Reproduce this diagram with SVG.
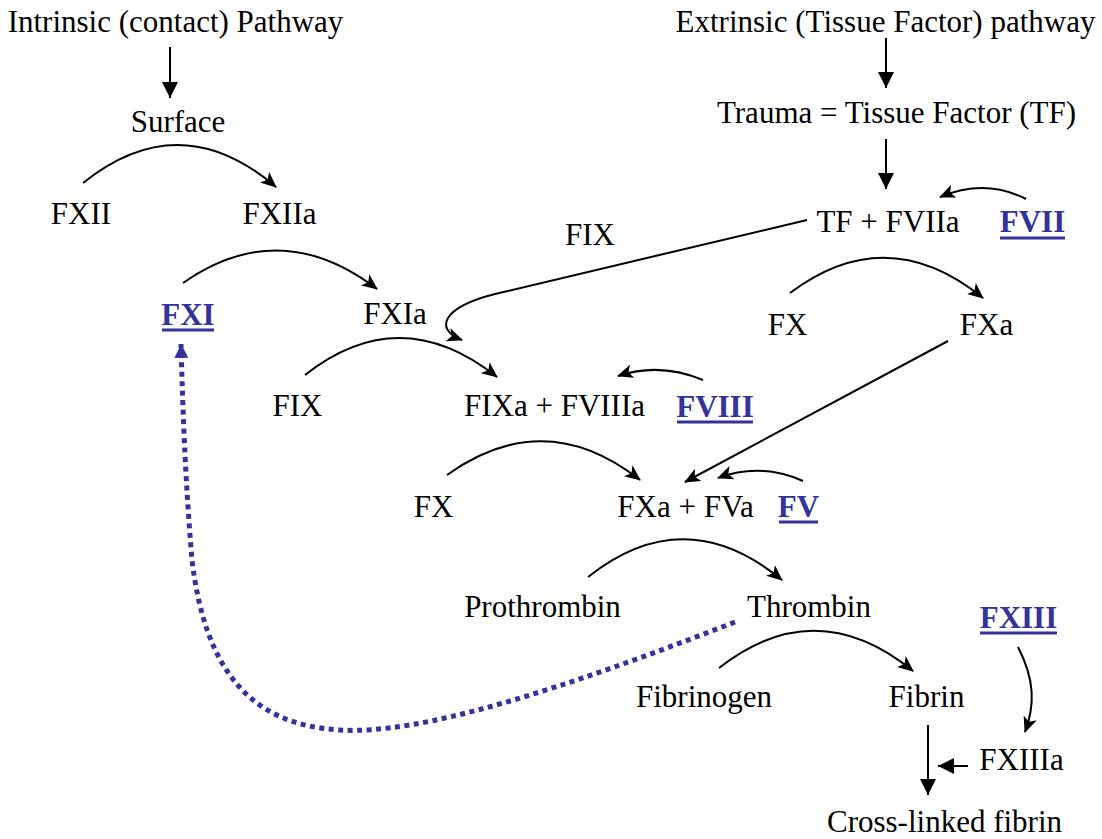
<svg xmlns="http://www.w3.org/2000/svg" width="1102" height="839" viewBox="0 0 1102 839">
<style>
text{font-family:"Liberation Serif","Times New Roman",serif;font-size:31px;fill:#000;text-anchor:middle}
text.f{font-weight:bold;fill:#333399}
.ul{stroke:#333399;stroke-width:3}
.c{fill:none;stroke:#000;stroke-width:2}
.s{fill:none;stroke:#000;stroke-width:2}
.d{fill:none;stroke:#333399;stroke-width:5;stroke-dasharray:5 4.5}
</style>
<defs>
<marker id="ah" markerUnits="userSpaceOnUse" viewBox="0 0 16 14" refX="15" refY="7" markerWidth="16" markerHeight="14" orient="auto">
<path d="M0,0 L16,7 L0,14 L4,7 z" fill="#000"/>
</marker>
<marker id="tri" markerUnits="userSpaceOnUse" viewBox="0 0 16 16" refX="16" refY="8" markerWidth="16" markerHeight="16" orient="auto">
<path d="M0,0 L16,8 L0,16 z" fill="#000"/>
</marker>
<marker id="bt" markerUnits="userSpaceOnUse" viewBox="0 0 14 14" refX="14" refY="7" markerWidth="14" markerHeight="14" orient="auto">
<path d="M0,0 L14,7 L0,14 z" fill="#333399"/>
</marker>
</defs>
<g id="connectors">
<path class="s" d="M170,47 L170,98" marker-end="url(#tri)"/>
<path class="s" d="M886,38 L886,88" marker-end="url(#tri)"/>
<path class="s" d="M886,139 L886,189" marker-end="url(#tri)"/>
<path class="s" d="M928,725 L928,795" marker-end="url(#tri)"/>
<path class="s" d="M968,766 L938,766" marker-end="url(#tri)"/>
<path class="c" d="M83,183 Q180,105 276,187" marker-end="url(#ah)"/>
<path class="c" d="M183,283 Q280,215 377,289" marker-end="url(#ah)"/>
<path class="c" d="M305,375 Q400,300 497,377" marker-end="url(#ah)"/>
<path class="c" d="M790,293 Q887,220 983,298" marker-end="url(#ah)"/>
<path class="c" d="M447,475 Q545,405 640,480" marker-end="url(#ah)"/>
<path class="c" d="M588,577 Q685,500 782,580" marker-end="url(#ah)"/>
<path class="c" d="M719,668 Q816,592 913,671" marker-end="url(#ah)"/>
<path class="c" d="M1026,199 Q985,178 940,197" marker-end="url(#ah)"/>
<path class="c" d="M703,380 Q660,362 618,376" marker-end="url(#ah)"/>
<path class="c" d="M803,481 Q760,462 718,478" marker-end="url(#ah)"/>
<path class="c" d="M1018,647 C1035,680 1035,705 1025,732" marker-end="url(#ah)"/>
<path class="c" d="M807,220 L495,294 C440,308 435,330 462,340" marker-end="url(#ah)"/>
<path class="c" d="M948,341 L685,482" marker-end="url(#ah)"/>
<path class="d" d="M735,622 C560,690 420,735 340,730 C250,725 205,670 192,560 C186,490 183,420 181,344" marker-end="url(#bt)"/>
</g>
<g id="n-intrinsic"><text x="175.5" y="32">Intrinsic (contact) Pathway</text></g>
<g id="n-surface"><text x="178" y="132">Surface</text></g>
<g id="n-fxii"><text x="81" y="224">FXII</text></g>
<g id="n-fxiia"><text x="279.5" y="224">FXIIa</text></g>
<g id="n-extrinsic"><text x="885.5" y="32">Extrinsic (Tissue Factor) pathway</text></g>
<g id="n-trauma"><text x="896.5" y="123">Trauma = Tissue Factor (TF)</text></g>
<g id="n-tffviia"><text x="888" y="232">TF + FVIIa</text></g>
<g id="n-fvii"><text class="f" x="1032.5" y="232">FVII</text><line class="ul" x1="1000" y1="238" x2="1065" y2="238"/></g>
<g id="n-fix-top"><text x="590" y="245">FIX</text></g>
<g id="n-fxi"><text class="f" x="188" y="325">FXI</text><line class="ul" x1="162" y1="330" x2="214" y2="330"/></g>
<g id="n-fxia"><text x="395" y="324">FXIa</text></g>
<g id="n-fx-top"><text x="787.5" y="335">FX</text></g>
<g id="n-fxa"><text x="986.5" y="335">FXa</text></g>
<g id="n-fix"><text x="297.5" y="416">FIX</text></g>
<g id="n-fixa"><text x="554.5" y="416">FIXa + FVIIIa</text></g>
<g id="n-fviii"><text class="f" x="715" y="417">FVIII</text><line class="ul" x1="677" y1="422" x2="753" y2="422"/></g>
<g id="n-fx"><text x="433.5" y="517">FX</text></g>
<g id="n-fxafva"><text x="685.5" y="517">FXa + FVa</text></g>
<g id="n-fv"><text class="f" x="798.5" y="517">FV</text><line class="ul" x1="779" y1="522" x2="818" y2="522"/></g>
<g id="n-prothrombin"><text x="542.5" y="617">Prothrombin</text></g>
<g id="n-thrombin"><text x="809" y="617">Thrombin</text></g>
<g id="n-fxiii"><text class="f" x="1018.5" y="628">FXIII</text><line class="ul" x1="980" y1="633" x2="1057" y2="633"/></g>
<g id="n-fibrinogen"><text x="704" y="707">Fibrinogen</text></g>
<g id="n-fibrin"><text x="926.5" y="707">Fibrin</text></g>
<g id="n-fxiiia"><text x="1021.5" y="770">FXIIIa</text></g>
<g id="n-crosslinked"><text x="944.5" y="832">Cross-linked fibrin</text></g>
</svg>
